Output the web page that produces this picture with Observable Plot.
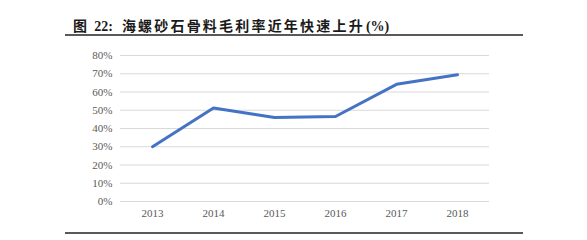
<!DOCTYPE html>
<html>
<head>
<meta charset="utf-8">
<script src="https://cdn.jsdelivr.net/npm/d3@7"></script>
<script src="https://cdn.jsdelivr.net/npm/@observablehq/plot@0.6"></script>
<style>
  body { margin: 0; background: #fff; }
  #wrap { position: relative; width: 587px; height: 240px; overflow: hidden; background: #fff; }
  #title { position: absolute; left: 73px; top: 15px; font-size: 14px; line-height: 20px; font-weight: bold; color: #1a1a1a; white-space: nowrap; }
  #title span { display: inline-block; }
  #title .cjk { font-family: "Noto Sans CJK SC", sans-serif; letter-spacing: 2.2px; }
  #title .lat { font-family: "Liberation Serif", serif; }
  .rule { position: absolute; left: 65px; width: 458px; height: 2px; background: #595959; }
  #chart { position: absolute; left: 0; top: 0; }
  #chart svg, #chart svg text { font-family: "Liberation Serif", serif !important; font-size: 11px !important; }
</style>
</head>
<body>
<div id="wrap">
  <div id="title"><span class="cjk">图</span><span class="lat" style="margin-left:5px">22:</span><span class="cjk" style="margin-left:9px">海螺砂石骨料毛利率近年快速上升</span><span class="lat" style="margin-left:1px">(%)</span></div>
  <div class="rule" style="top:34px"></div>
  <div id="chart"></div>
  <div class="rule" style="top:232px"></div>
</div>
<script>
const years = ["2013", "2014", "2015", "2016", "2017", "2018"];
const grossMargin = [30.0, 51.2, 46.0, 46.6, 64.2, 69.5];
const yTicks = [0, 10, 20, 30, 40, 50, 60, 70, 80];

const data = years.map((y, i) => ({year: y, value: grossMargin[i]}));

const chart = Plot.plot({
  width: 587,
  height: 240,
  marginTop: 55,
  marginBottom: 39,
  marginLeft: 120,
  marginRight: 98,
  style: {background: "transparent", color: "#595959"},
  x: {type: "point", domain: years, padding: 0.5},
  y: {domain: [0, 80]},
  marks: [
    Plot.ruleY(yTicks, {stroke: "#d9d9d9", strokeWidth: 1}),
    Plot.axisY({ticks: yTicks, tickSize: 0, tickPadding: 8, tickFormat: d => d + "%", label: null, fill: "#595959"}),
    Plot.axisX({tickSize: 0, tickPadding: 8, label: null, fill: "#595959"}),
    Plot.line(data, {x: "year", y: "value", stroke: "#4472C4", strokeWidth: 3})
  ]
});
document.getElementById("chart").appendChild(chart);
</script>
</body>
</html>
